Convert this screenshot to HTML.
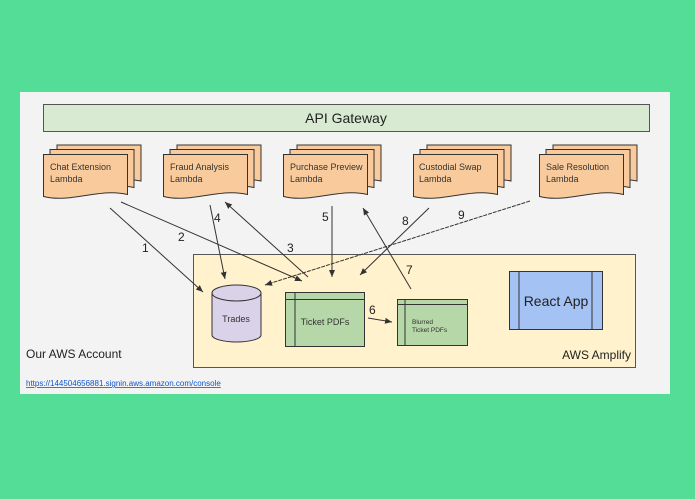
<!DOCTYPE html>
<html><head><style>
body{margin:0;width:695px;height:494px;background:#53dd96;overflow:hidden;font-family:"Liberation Sans",sans-serif;}
</style></head><body>
<svg width="695" height="494" xmlns="http://www.w3.org/2000/svg" font-family="Liberation Sans, sans-serif">
<defs><marker id="a" markerWidth="8" markerHeight="8" refX="7" refY="4" orient="auto" markerUnits="userSpaceOnUse"><path d="M0,1 L7,4 L0,7 z" fill="#333"/></marker></defs>
<rect x="20" y="92" width="650" height="302" fill="#f3f3f3"/>
<rect x="43.5" y="104.5" width="606" height="27" fill="#d9ead3" stroke="#555"/>
<text x="346" y="123" font-size="14" text-anchor="middle" fill="#222">API Gateway</text>
<g id="lam">
<path d="M57,145 h84 v36 c-28,-6 -56,8 -84,2z" fill="#f9cb9c" stroke="#333" stroke-width="1"/>
<path d="M50,149.5 h84 v38 c-28,-6 -56,8 -84,2z" fill="#f9cb9c" stroke="#333" stroke-width="1"/>
<path d="M43.5,154.5 h84 v40 c-28,-7 -56,9 -84,2z" fill="#f9cb9c" stroke="#333" stroke-width="1"/>
</g>
<use href="#lam" x="120"/><use href="#lam" x="240"/><use href="#lam" x="370"/><use href="#lam" x="496"/>
<g font-size="9" fill="#333">
<text x="50" y="170">Chat Extension</text><text x="50" y="182">Lambda</text>
<text x="170" y="170">Fraud Analysis</text><text x="170" y="182">Lambda</text>
<text x="290" y="170">Purchase Preview</text><text x="290" y="182">Lambda</text>
<text x="419" y="170">Custodial Swap</text><text x="419" y="182">Lambda</text>
<text x="546" y="170">Sale Resolution</text><text x="546" y="182">Lambda</text>
</g>
<rect x="193.5" y="254.5" width="442" height="113" fill="#fff2cc" stroke="#555"/>
<path d="M212,293 v42 a24.5,7 0 0 0 49,0 v-42" fill="#d9d2e9" stroke="#333"/>
<ellipse cx="236.5" cy="293" rx="24.5" ry="8" fill="#d9d2e9" stroke="#333"/>
<text x="236" y="322" font-size="9" text-anchor="middle" fill="#333">Trades</text>
<rect x="285.5" y="292.5" width="79" height="54" fill="#b6d7a8" stroke="#333"/>
<path d="M295,292 v55 M285,299.5 h80" stroke="#333"/>
<text x="325" y="325" font-size="9" text-anchor="middle" fill="#333">Ticket PDFs</text>
<rect x="397.5" y="299.5" width="70" height="46" fill="#b6d7a8" stroke="#333"/>
<path d="M405,299 v47 M397,304.5 h71" stroke="#333"/>
<text x="412" y="324" font-size="6.5" fill="#333">Blurred</text>
<text x="412" y="332" font-size="6.5" fill="#333">Ticket PDFs</text>
<rect x="509.5" y="271.5" width="93" height="58" fill="#a4c2f4" stroke="#333"/>
<path d="M519,271 v59 M592,271 v59" stroke="#333"/>
<text x="556" y="306" font-size="14" text-anchor="middle" fill="#222">React App</text>
<text x="26" y="358" font-size="12" fill="#222">Our AWS Account</text>
<text x="631" y="359" font-size="12" text-anchor="end" fill="#222">AWS Amplify</text>
<text x="26" y="386" font-size="8" fill="#1155cc" text-decoration="underline">https://144504656881.signin.aws.amazon.com/console</text>
<g stroke="#333" stroke-width="1" fill="none">
<line x1="110" y1="208" x2="203" y2="292" marker-end="url(#a)"/>
<line x1="121" y1="202" x2="302" y2="281" marker-end="url(#a)"/>
<line x1="308" y1="277" x2="225" y2="202" marker-end="url(#a)"/>
<line x1="210" y1="205" x2="225" y2="279" marker-end="url(#a)"/>
<line x1="332" y1="206" x2="332" y2="277" marker-end="url(#a)"/>
<line x1="368" y1="318" x2="392" y2="322" marker-end="url(#a)"/>
<line x1="411" y1="289" x2="363" y2="208" marker-end="url(#a)"/>
<line x1="429" y1="208" x2="360" y2="275" marker-end="url(#a)"/>
<line x1="530" y1="201" x2="265" y2="285" stroke-dasharray="4,1" marker-end="url(#a)"/>
</g>
<g font-size="12" fill="#222">
<text x="142" y="252">1</text><text x="178" y="241">2</text><text x="287" y="252">3</text>
<text x="214" y="222">4</text><text x="322" y="221">5</text><text x="369" y="314">6</text>
<text x="406" y="274">7</text><text x="402" y="225">8</text><text x="458" y="219">9</text>
</g>
</svg>
</body></html>
